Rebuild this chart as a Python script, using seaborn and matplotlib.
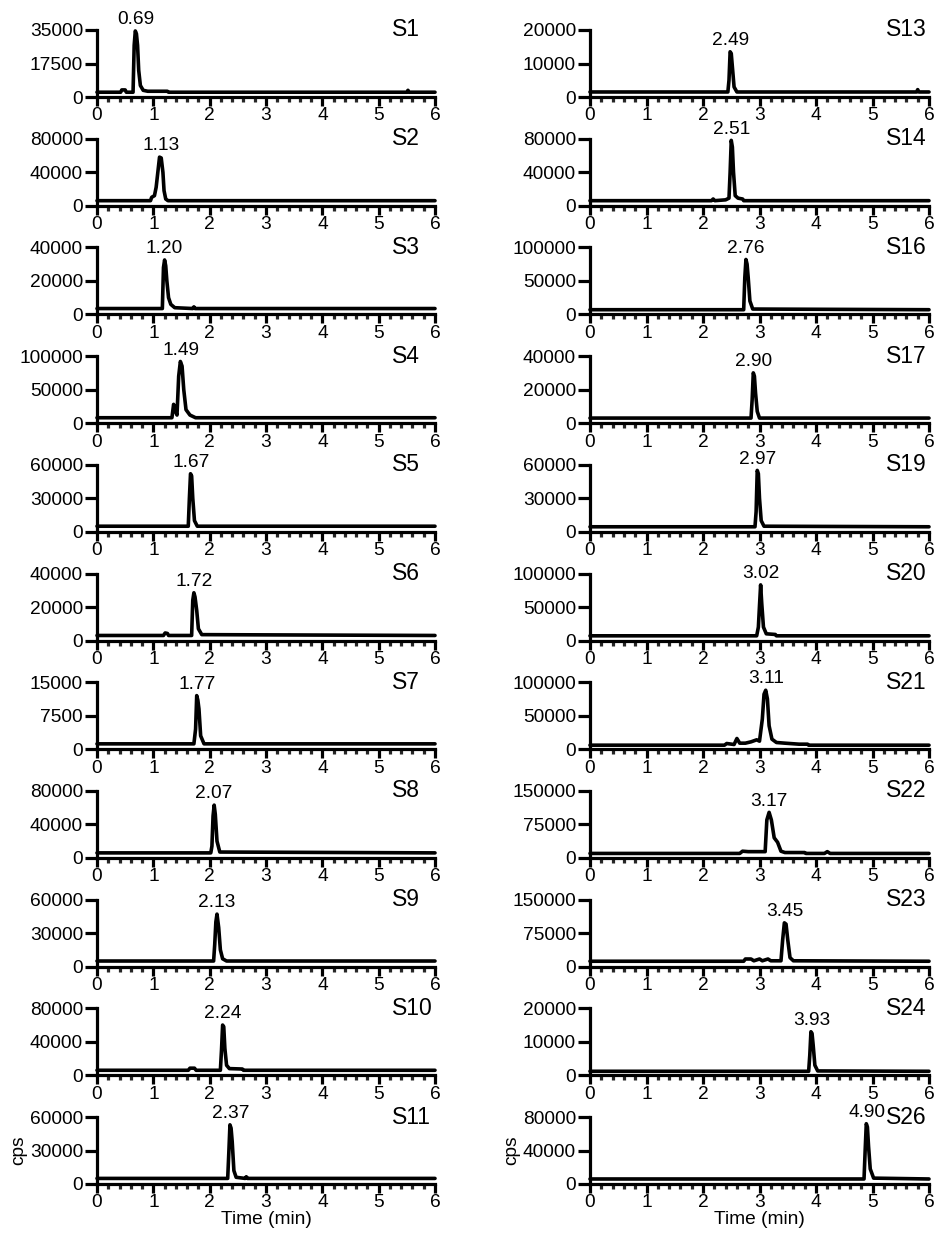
import matplotlib
matplotlib.use("Agg")
import matplotlib.pyplot as plt
import seaborn as sns
from matplotlib.ticker import FixedLocator, MultipleLocator

# panel metadata, left column then right column
left_samples = ['S1', 'S2', 'S3', 'S4', 'S5', 'S6', 'S7', 'S8', 'S9', 'S10', 'S11']
left_rt = ['0.69', '1.13', '1.20', '1.49', '1.67', '1.72', '1.77', '2.07', '2.13', '2.24', '2.37']
left_ymax = [35000, 80000, 40000, 100000, 60000, 40000, 15000, 80000, 60000, 80000, 60000]

right_samples = ['S13', 'S14', 'S16', 'S17', 'S19', 'S20', 'S21', 'S22', 'S23', 'S24', 'S26']
right_rt = ['2.49', '2.51', '2.76', '2.90', '2.97', '3.02', '3.11', '3.17', '3.45', '3.93', '4.90']
right_ymax = [20000, 80000, 100000, 40000, 60000, 100000, 100000, 150000, 150000, 20000, 80000]

# chromatogram traces (time in min, intensity in cps)
t_S1 = [0, 0.42, 0.44, 0.5, 0.52, 0.64, 0.66, 0.68, 0.70, 0.72, 0.74, 0.77, 0.82, 0.9, 1.25, 1.27, 5.5, 5.52, 5.54, 6]
i_S1 = [2500, 2500, 3700, 3700, 2500, 2500, 27000, 34500, 33000, 27000, 14000, 6000, 3500, 3000, 3000, 2500, 2500, 3500, 2500, 2500]
t_S2 = [0, 0.95, 0.97, 1.02, 1.05, 1.08, 1.11, 1.14, 1.17, 1.19, 1.22, 1.26, 6]
i_S2 = [6000, 6000, 10000, 12000, 22000, 40000, 58000, 57000, 40000, 18000, 8000, 6000, 6000]
t_S3 = [0, 1.16, 1.18, 1.20, 1.22, 1.24, 1.27, 1.31, 1.38, 1.7, 1.72, 1.74, 6]
i_S3 = [3500, 3500, 28000, 32500, 29000, 20000, 10000, 6000, 4000, 3500, 4500, 3500, 3500]
t_S4 = [0, 1.33, 1.36, 1.39, 1.42, 1.45, 1.48, 1.51, 1.54, 1.58, 1.65, 1.75, 6]
i_S4 = [8000, 8000, 28000, 18000, 12000, 70000, 92000, 85000, 50000, 20000, 12000, 8000, 8000]
t_S5 = [0, 1.62, 1.64, 1.66, 1.68, 1.70, 1.73, 1.78, 6]
i_S5 = [5000, 5000, 30000, 52000, 50000, 30000, 10000, 5000, 5000]
t_S6 = [0, 1.18, 1.21, 1.25, 1.27, 1.68, 1.70, 1.72, 1.74, 1.77, 1.80, 1.86, 6]
i_S6 = [3000, 3000, 4500, 4200, 3000, 3000, 24000, 28500, 26000, 18000, 7000, 3500, 3000]
t_S7 = [0, 1.72, 1.75, 1.77, 1.79, 1.81, 1.84, 1.9, 6]
i_S7 = [1200, 1200, 4500, 12000, 11000, 9000, 3000, 1200, 1200]
t_S8 = [0, 2.02, 2.04, 2.06, 2.08, 2.10, 2.13, 2.18, 6]
i_S8 = [6000, 6000, 14000, 50000, 63000, 52000, 20000, 7000, 6000]
t_S9 = [0, 2.07, 2.09, 2.11, 2.13, 2.16, 2.19, 2.23, 2.3, 6]
i_S9 = [5000, 5000, 20000, 40000, 47000, 35000, 15000, 7000, 5000, 5000]
t_S10 = [0, 1.62, 1.65, 1.73, 1.76, 2.19, 2.21, 2.23, 2.25, 2.27, 2.30, 2.35, 2.58, 2.6, 6]
i_S10 = [6000, 6000, 8500, 8500, 6000, 6000, 30000, 60000, 58000, 32000, 12000, 8000, 7500, 6000, 6000]
t_S11 = [0, 2.32, 2.34, 2.36, 2.38, 2.40, 2.43, 2.47, 2.63, 2.65, 2.67, 6]
i_S11 = [5000, 5000, 28000, 53000, 50000, 38000, 12000, 6000, 5000, 6500, 5000, 5000]

t_S13 = [0, 2.44, 2.46, 2.48, 2.50, 2.52, 2.55, 2.6, 5.78, 5.8, 5.82, 6]
i_S13 = [1500, 1500, 5000, 13500, 13000, 9000, 3000, 1500, 1500, 2200, 1500, 1500]
t_S14 = [0, 2.15, 2.18, 2.21, 2.40, 2.46, 2.48, 2.50, 2.52, 2.54, 2.57, 2.62, 2.7, 2.72, 6]
i_S14 = [6000, 6000, 8000, 6000, 7000, 9000, 40000, 78000, 70000, 40000, 12000, 9000, 8000, 6000, 6000]
t_S16 = [0, 2.72, 2.74, 2.76, 2.78, 2.80, 2.83, 2.88, 6]
i_S16 = [7000, 7000, 55000, 82000, 75000, 55000, 20000, 8000, 7000]
t_S17 = [0, 2.85, 2.87, 2.89, 2.91, 2.93, 2.96, 3.0, 6]
i_S17 = [3000, 3000, 14000, 30000, 28000, 18000, 7000, 3000, 3000]
t_S19 = [0, 2.92, 2.94, 2.96, 2.98, 3.00, 3.03, 3.08, 6]
i_S19 = [4500, 4500, 18000, 55000, 52000, 30000, 10000, 5000, 4500]
t_S20 = [0, 2.95, 2.98, 3.00, 3.02, 3.04, 3.07, 3.12, 3.28, 3.30, 6]
i_S20 = [7000, 7000, 20000, 52000, 83000, 55000, 20000, 10000, 9000, 7000, 7000]
t_S21 = [0, 2.38, 2.42, 2.55, 2.6, 2.65, 2.75, 2.85, 2.95, 3.0, 3.05, 3.08, 3.11, 3.14, 3.17, 3.22, 3.3, 3.45, 3.7, 3.85, 3.87, 6]
i_S21 = [6000, 6000, 8500, 7000, 16000, 9000, 9000, 11000, 14000, 12000, 45000, 82000, 88000, 75000, 35000, 15000, 10000, 9000, 7500, 7500, 6000, 6000]
t_S22 = [0, 2.65, 2.7, 2.8, 2.9, 3.1, 3.13, 3.17, 3.21, 3.26, 3.32, 3.38, 3.45, 3.8, 3.82, 4.15, 4.2, 4.25, 6]
i_S22 = [10000, 10000, 15000, 14000, 14000, 14000, 85000, 102000, 85000, 45000, 35000, 15000, 12000, 12000, 10000, 10000, 14000, 10000, 10000]
t_S23 = [0, 2.72, 2.75, 2.85, 2.9, 3.0, 3.05, 3.15, 3.2, 3.38, 3.41, 3.44, 3.47, 3.50, 3.54, 3.6, 6]
i_S23 = [12000, 12000, 17000, 17000, 13000, 17000, 13000, 17000, 13000, 13000, 60000, 98000, 95000, 60000, 20000, 13000, 12000]
t_S24 = [0, 3.87, 3.89, 3.91, 3.93, 3.95, 3.98, 4.03, 6]
i_S24 = [1200, 1200, 6000, 13000, 12500, 9000, 3000, 1300, 1200]
t_S26 = [0, 4.85, 4.87, 4.89, 4.91, 4.93, 4.96, 5.02, 6]
i_S26 = [6000, 6000, 40000, 72000, 68000, 45000, 18000, 7000, 6000]

traces = {
    'S1': (t_S1, i_S1), 'S2': (t_S2, i_S2), 'S3': (t_S3, i_S3), 'S4': (t_S4, i_S4),
    'S5': (t_S5, i_S5), 'S6': (t_S6, i_S6), 'S7': (t_S7, i_S7), 'S8': (t_S8, i_S8),
    'S9': (t_S9, i_S9), 'S10': (t_S10, i_S10), 'S11': (t_S11, i_S11),
    'S13': (t_S13, i_S13), 'S14': (t_S14, i_S14), 'S16': (t_S16, i_S16), 'S17': (t_S17, i_S17),
    'S19': (t_S19, i_S19), 'S20': (t_S20, i_S20), 'S21': (t_S21, i_S21), 'S22': (t_S22, i_S22),
    'S23': (t_S23, i_S23), 'S24': (t_S24, i_S24), 'S26': (t_S26, i_S26),
}

sns.set_theme(style="ticks")
plt.rcParams['font.family'] = ['Liberation Sans', 'DejaVu Sans']

W, H = 935, 1234
fig = plt.figure(figsize=(W / 100, H / 100), dpi=100)

FS = 13.8
LW = 2.3       # spines and ticks
TRACE_LW = 2.6


def draw_panel(left_px, width_px, row, name, rt, ymax, is_last):
    bottom_px = 97 + row * 108.7
    ax = fig.add_axes([left_px / W, 1 - bottom_px / H, width_px / W, 67 / H])
    t, y = traces[name]
    sns.lineplot(x=t, y=y, ax=ax, color='black', linewidth=TRACE_LW, sort=False,
                 estimator=None, clip_on=False)
    ax.set_xlim(0, 6)
    ax.set_ylim(0, ymax)
    ax.xaxis.set_minor_locator(MultipleLocator(0.2))
    ax.yaxis.set_major_locator(FixedLocator([0, ymax / 2, ymax]))
    ax.set_yticklabels(['0', str(int(ymax / 2)), str(ymax)])
    ax.set_xticks(range(7))
    ax.set_xticklabels([str(v) for v in range(7)])
    sns.despine(ax=ax)
    for s in ('left', 'bottom'):
        ax.spines[s].set_linewidth(LW)
        ax.spines[s].set_color('black')
    ax.tick_params(axis='y', which='major', length=8.5, width=LW, pad=1.5,
                   labelsize=FS, colors='black')
    ax.tick_params(axis='x', which='major', length=6.5, width=LW, pad=1,
                   labelsize=FS, colors='black')
    ax.tick_params(axis='x', which='minor', length=3.5, width=LW)
    ax.set_facecolor('white')

    # peak label just above the apex
    peak = max(y)
    ax.annotate(rt, xy=(float(rt), peak), xytext=(0, 2), textcoords='offset points',
                ha='center', va='bottom', fontsize=FS, color='black',
                annotation_clip=False)
    ax.text(0.872, 1.0, name, transform=ax.transAxes, ha='left', va='center',
            fontsize=16.5, color='black')

    if is_last:
        ax.set_ylabel('cps', fontsize=FS, labelpad=2, color='black')
        ax.set_xlabel('Time (min)', fontsize=FS, labelpad=0, color='black')
    else:
        ax.set_ylabel('')
        ax.set_xlabel('')
    return ax


n = len(left_samples)
for r in range(n):
    draw_panel(97, 338, r, left_samples[r], left_rt[r], left_ymax[r], r == n - 1)
    draw_panel(590, 339, r, right_samples[r], right_rt[r], right_ymax[r], r == n - 1)

fig.savefig('out.png', dpi=100, facecolor='white')
